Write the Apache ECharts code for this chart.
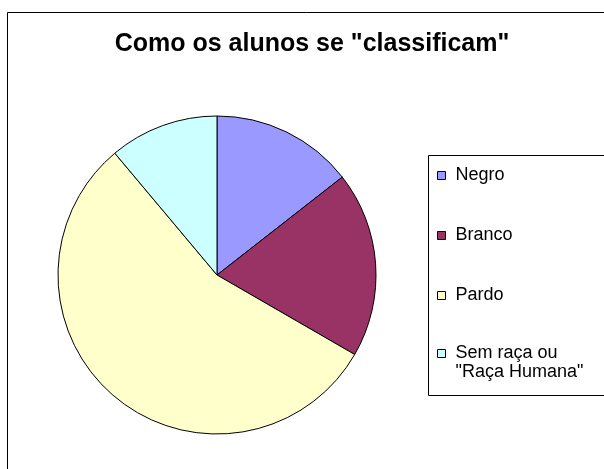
<!DOCTYPE html>
<html>
<head>
<meta charset="utf-8">
<script src="https://cdn.jsdelivr.net/npm/echarts@6/dist/echarts.min.js"></script>
<style>
  html, body { margin: 0; padding: 0; background: #fff; }
  #chart { width: 604px; height: 469px; }
</style>
</head>
<body>
<div id="chart"></div>
<script>
// Self-classification of students
const categories = ['Negro', 'Branco', 'Pardo', 'Sem raça ou\n"Raça Humana"'];
const counts = [13, 17, 50, 10];
const colors = ['#9999FF', '#993366', '#FFFFCC', '#CCFFFF'];

const chart = echarts.init(document.getElementById('chart'), null, { renderer: 'canvas' });

const FONT = '"Liberation Sans", Arial, sans-serif';
const LINE_H = 19;

const legendBase = {
  orient: 'vertical',
  left: 437,
  padding: 0,
  itemWidth: 8,
  itemHeight: 8,
  itemGap: 41,
  icon: 'rect',
  selectedMode: false,
  itemStyle: { borderColor: '#000', borderWidth: 1 },
  textStyle: { fontFamily: FONT, fontSize: 18, color: '#000', lineHeight: LINE_H, padding: [0, 0, 0, 5] }
};

chart.setOption({
  backgroundColor: '#ffffff',
  animation: false,
  title: {
    text: 'Como os alunos se "classificam"',
    left: 312,
    top: 32,
    padding: 0,
    textAlign: 'center',
    textStyle: { fontFamily: FONT, fontSize: 25, fontWeight: 'bold', color: '#000' }
  },
  graphic: [
    {
      type: 'rect', silent: true, z: -1,
      shape: { x: 7.5, y: 12.5, width: 700, height: 600 },
      style: { fill: 'none', stroke: '#000', lineWidth: 1 }
    },
    {
      type: 'rect', silent: true, z: -1,
      shape: { x: 428.5, y: 155.5, width: 300, height: 240 },
      style: { fill: '#fff', stroke: '#000', lineWidth: 1 }
    }
  ],
  legend: [
    Object.assign({}, legendBase, {
      top: 166,
      data: categories.slice(0, 3)
    }),
    // two-line entry: a leading empty line keeps the swatch level with the first line
    Object.assign({}, legendBase, {
      top: 325,
      formatter: name => '\n' + name,
      data: categories.slice(3)
    })
  ],
  series: [{
    type: 'pie',
    center: [217, 275],
    radius: 159,
    startAngle: 90,
    clockwise: true,
    label: { show: false },
    labelLine: { show: false },
    emphasis: { disabled: true },
    itemStyle: { borderColor: '#000', borderWidth: 1 },
    data: categories.map((name, i) => ({ name, value: counts[i], itemStyle: { color: colors[i] } }))
  }]
});
</script>
</body>
</html>
